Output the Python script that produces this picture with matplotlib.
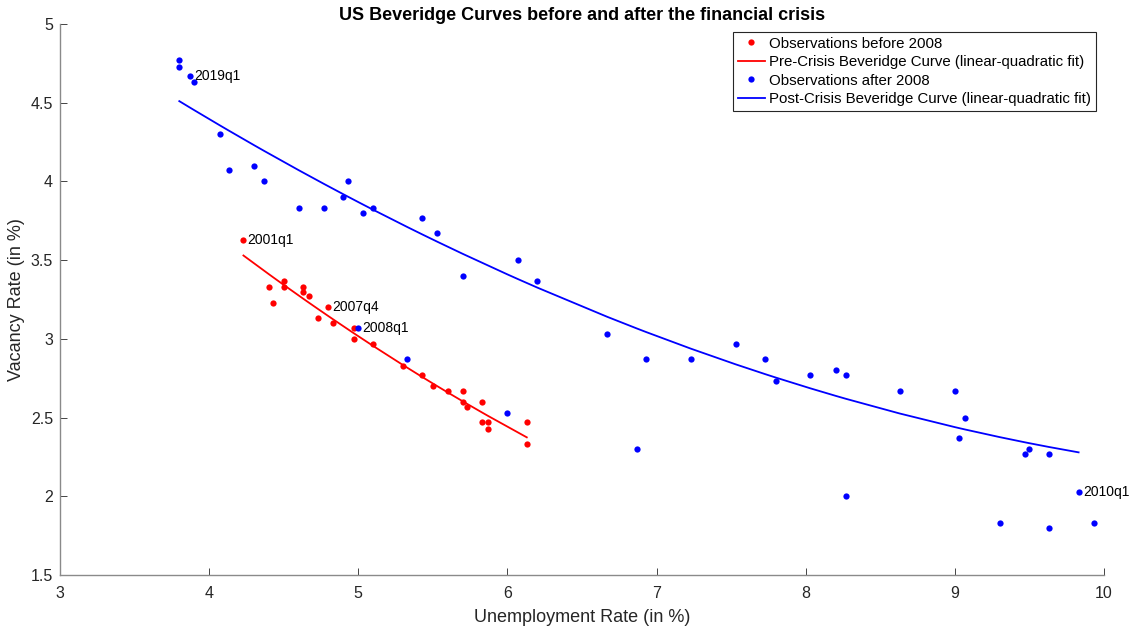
import numpy as np
import matplotlib
matplotlib.use("Agg")
import matplotlib.pyplot as plt

plt.rcParams['font.family'] = ['Liberation Sans', 'DejaVu Sans']

# Observations before 2008 (2001q1 - 2007q4): unemployment, vacancy rate (in %)
u_pre = [4.23, 4.40, 4.43, 4.50, 4.50, 4.63, 4.63, 4.67, 4.80, 4.73, 4.83, 4.97, 4.97, 5.10,
         5.30, 5.43, 5.50, 5.60, 5.70, 5.70, 5.73, 5.83, 5.83, 5.87, 5.87, 6.13, 6.13]
v_pre = [3.63, 3.33, 3.23, 3.37, 3.33, 3.33, 3.30, 3.27, 3.20, 3.13, 3.10, 3.07, 3.00, 2.97,
         2.83, 2.77, 2.70, 2.67, 2.67, 2.60, 2.57, 2.60, 2.47, 2.47, 2.43, 2.47, 2.33]

# Observations after 2008 (2008q1 - 2019q1)
u_post = [5.00, 5.33, 6.00, 6.87, 8.27, 9.30, 9.63, 9.93, 9.83, 9.63, 9.47, 9.50, 9.03, 9.07,
          9.00, 8.63, 8.27, 8.20, 8.03, 7.80, 7.73, 7.53, 7.23, 6.93, 6.67, 6.20, 6.07, 5.70,
          5.53, 5.43, 5.10, 5.03, 4.93, 4.90, 4.77, 4.60, 4.37, 4.30, 4.13, 4.07, 3.90, 3.80,
          3.80, 3.87]
v_post = [3.07, 2.87, 2.53, 2.30, 2.00, 1.83, 1.80, 1.83, 2.03, 2.27, 2.27, 2.30, 2.37, 2.50,
          2.67, 2.67, 2.77, 2.80, 2.77, 2.73, 2.87, 2.97, 2.87, 2.87, 3.03, 3.37, 3.50, 3.40,
          3.67, 3.77, 3.83, 3.80, 4.00, 3.90, 3.83, 3.83, 4.00, 4.10, 4.07, 4.30, 4.63, 4.73,
          4.77, 4.67]

# post-crisis curve as drawn in the original (quadratic coefficients, u range)
post_fit_coef = [0.0340, -0.8334, 7.186]
post_fit_range = (3.80, 9.83)

# labelled quarters
labels = ["2001q1", "2007q4", "2008q1", "2010q1", "2019q1"]
label_u = [4.23, 4.80, 5.00, 9.83, 3.87]
label_v = [3.63, 3.20, 3.07, 2.03, 4.67]

u_pre = np.array(u_pre)
v_pre = np.array(v_pre)
u_post = np.array(u_post)
v_post = np.array(v_post)

# linear-quadratic fits
c_pre = np.polyfit(u_pre, v_pre, 2)
xs_pre = np.sort(u_pre)
xs_post = np.sort(u_post)
xs_post = xs_post[(xs_post >= post_fit_range[0]) & (xs_post <= post_fit_range[1])]

fig = plt.figure(figsize=(11.34, 6.32), dpi=100)
ax = fig.add_axes([0.0529, 0.0902, 0.9206, 0.8718])

axcol = '#262626'
ax.plot(u_pre, v_pre, 'o', color='red', ms=4.5, mec='none', label='Observations before 2008')
ax.plot(xs_pre, np.polyval(c_pre, xs_pre), '-', color='red', lw=1.3,
        label='Pre-Crisis Beveridge Curve (linear-quadratic fit)')
ax.plot(u_post, v_post, 'o', color='blue', ms=4.5, mec='none', label='Observations after 2008')
ax.plot(xs_post, np.polyval(post_fit_coef, xs_post), '-', color='blue', lw=1.3,
        label='Post-Crisis Beveridge Curve (linear-quadratic fit)')

for t, x, y in zip(labels, label_u, label_v):
    ax.annotate(t, (x, y), xytext=(3, 0), textcoords='offset points',
                va='center', ha='left', fontsize=10, color='black')

ax.set_xlim(3, 10)
ax.set_ylim(1.5, 5)
ax.set_xticks(np.arange(3, 11, 1))
ax.set_yticks(np.arange(1.5, 5.01, 0.5))
ax.set_yticklabels(['1.5', '2', '2.5', '3', '3.5', '4', '4.5', '5'])
ax.spines['top'].set_visible(False)
ax.spines['right'].set_visible(False)
for s in ['left', 'bottom']:
    ax.spines[s].set_color('#8a8a8a')
    ax.spines[s].set_linewidth(1.0)
ax.tick_params(direction='in', length=5, width=0.6, colors=axcol, labelsize=11.5)
ax.tick_params(axis='x', pad=8)
ax.tick_params(axis='y', pad=5)

ax.set_xlabel('Unemployment Rate (in %)', fontsize=13, color=axcol, labelpad=6)
ax.set_ylabel('Vacancy Rate (in %)', fontsize=13, color=axcol, labelpad=4)
ax.set_title('US Beveridge Curves before and after the financial crisis', fontsize=13,
             fontweight='bold', pad=2)

leg = ax.legend(loc='upper right', bbox_to_anchor=(0.9923, 0.9855), fontsize=10.8, frameon=True,
                fancybox=False, framealpha=1, edgecolor='#262626', handlelength=1.8,
                handletextpad=0.3, borderpad=0.3, labelspacing=0.3, borderaxespad=0)
leg.get_frame().set_linewidth(0.8)

fig.savefig('out.png', dpi=100)
